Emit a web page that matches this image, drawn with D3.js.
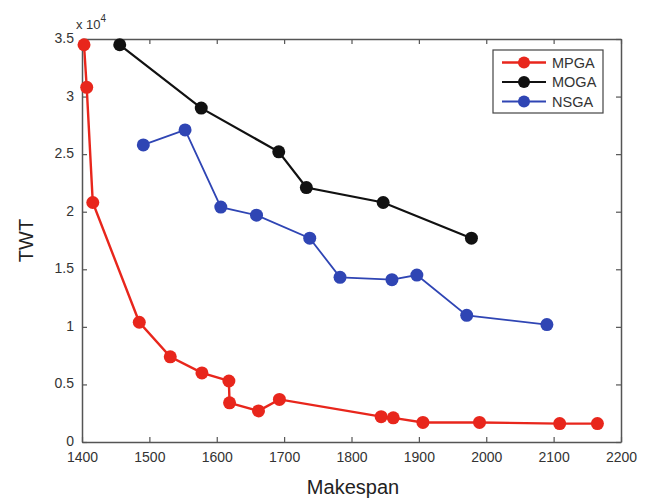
<!DOCTYPE html>
<html>
<head>
  <script src="https://d3js.org/d3.v7.min.js"></script>
  <style>
    body { margin: 0; background: #fff; }
    text { font-family: "Liberation Sans", Arial, sans-serif; }
  </style>
</head>
<body>
  <div id="chart"></div>
  <script>
    // Data (TWT in units of 10^4)
    const mpgaX = [1403, 1407, 1416, 1485, 1531, 1578, 1618, 1619, 1662, 1693, 1844, 1862, 1906, 1990, 2109, 2165];
    const mpgaY = [3.45, 3.08, 2.08, 1.04, 0.74, 0.60, 0.53, 0.34, 0.27, 0.37, 0.22, 0.21, 0.17, 0.17, 0.16, 0.16];
    const mogaX = [1456, 1577, 1692, 1733, 1847, 1978];
    const mogaY = [3.45, 2.90, 2.52, 2.21, 2.08, 1.77];
    const nsgaX = [1491, 1553, 1606, 1659, 1738, 1783, 1860, 1897, 1971, 2090];
    const nsgaY = [2.58, 2.71, 2.04, 1.97, 1.77, 1.43, 1.41, 1.45, 1.10, 1.02];
    const xTicks = [1400, 1500, 1600, 1700, 1800, 1900, 2000, 2100, 2200];
    const yTicks = [0, 0.5, 1, 1.5, 2, 2.5, 3, 3.5];

    const series = [
      { name: 'MPGA', xs: mpgaX, ys: mpgaY, color: '#e8261c', width: 2.4 },
      { name: 'MOGA', xs: mogaX, ys: mogaY, color: '#111111', width: 2.2 },
      { name: 'NSGA', xs: nsgaX, ys: nsgaY, color: '#2f45b4', width: 1.8 }
    ];

    const width = 649, height = 500;
    const margin = { left: 82, right: 28, top: 39, bottom: 58 };
    const iw = width - margin.left - margin.right;
    const ih = height - margin.top - margin.bottom;

    const svg = d3.select('#chart').append('svg')
      .attr('width', width)
      .attr('height', height);

    const g = svg.append('g')
      .attr('transform', `translate(${margin.left},${margin.top})`);

    const x = d3.scaleLinear().domain([1400, 2200]).range([0, iw]);
    const y = d3.scaleLinear().domain([0, 3.5]).range([ih, 0]);

    // axes with inward ticks
    const axisColor = '#555';
    const xb = g.append('g').attr('transform', `translate(0,${ih})`)
      .call(d3.axisBottom(x).tickValues(xTicks).tickSizeInner(-5).tickSizeOuter(0).tickPadding(10).tickFormat(d3.format('d')));
    const xt = g.append('g')
      .call(d3.axisTop(x).tickValues(xTicks).tickSizeInner(-5).tickSizeOuter(0).tickFormat(''));
    const yl = g.append('g')
      .call(d3.axisLeft(y).tickValues(yTicks).tickSizeInner(-5).tickSizeOuter(0).tickPadding(8).tickFormat(d3.format('')));
    const yr = g.append('g').attr('transform', `translate(${iw},0)`)
      .call(d3.axisRight(y).tickValues(yTicks).tickSizeInner(-5).tickSizeOuter(0).tickFormat(''));

    [xb, xt, yl, yr].forEach(a => {
      a.selectAll('path').attr('stroke', axisColor).attr('stroke-width', 1.5);
      a.selectAll('line').attr('stroke', axisColor).attr('stroke-width', 1.2);
      a.selectAll('text').attr('fill', '#333').style('font-size', '14px');
    });
    yl.selectAll('text').attr('dy', '0.25em');

    // exponent label
    const ex = svg.append('text')
      .attr('x', margin.left - 6).attr('y', margin.top - 10)
      .attr('fill', '#333').style('font-size', '13px');
    ex.append('tspan').text('x 10');
    ex.append('tspan').attr('dy', -7).style('font-size', '10px').text('4');

    // axis titles
    svg.append('text')
      .attr('x', 353).attr('y', height - 6)
      .attr('text-anchor', 'middle')
      .attr('fill', '#222').style('font-size', '20px')
      .text('Makespan');
    svg.append('text')
      .attr('transform', `translate(33,${margin.top + ih / 2}) rotate(-90)`)
      .attr('text-anchor', 'middle')
      .attr('fill', '#222').style('font-size', '20px')
      .text('TWT');

    // lines and markers
    const line = d3.line().x(d => x(d[0])).y(d => y(d[1]));
    series.forEach(s => {
      const pts = s.xs.map((v, i) => [v, s.ys[i]]);
      g.append('path').datum(pts)
        .attr('fill', 'none')
        .attr('stroke', s.color)
        .attr('stroke-width', s.width)
        .attr('d', line);
      g.selectAll(null).data(pts).enter().append('circle')
        .attr('cx', d => x(d[0]))
        .attr('cy', d => y(d[1]))
        .attr('r', 6.5)
        .attr('fill', s.color);
    });

    // legend
    const lg = svg.append('g').attr('transform', 'translate(493,50)');
    lg.append('rect')
      .attr('width', 110).attr('height', 63)
      .attr('fill', '#fff').attr('stroke', '#444').attr('stroke-width', 1.2);
    series.forEach((s, i) => {
      const yy = 12.5 + i * 19.5;
      lg.append('line')
        .attr('x1', 9).attr('x2', 53).attr('y1', yy).attr('y2', yy)
        .attr('stroke', s.color).attr('stroke-width', s.width);
      lg.append('circle').attr('cx', 31).attr('cy', yy).attr('r', 6).attr('fill', s.color);
      lg.append('text')
        .attr('x', 59).attr('y', yy + 5)
        .attr('fill', '#333').style('font-size', '14.5px')
        .text(s.name);
    });
  </script>
</body>
</html>
